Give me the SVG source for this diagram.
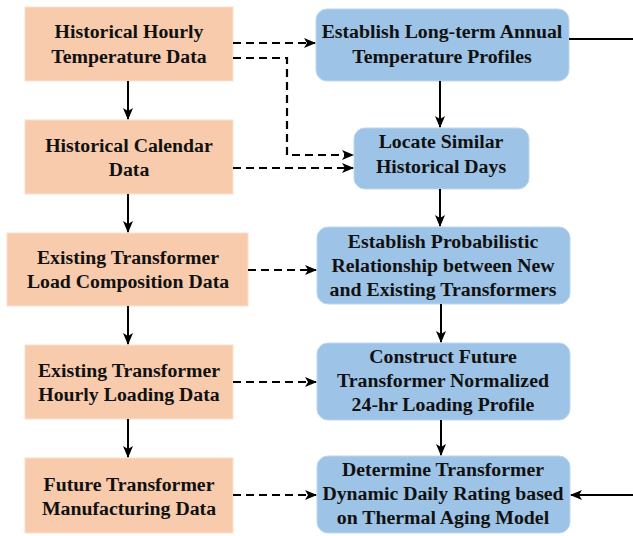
<svg xmlns="http://www.w3.org/2000/svg" width="633" height="536" viewBox="0 0 633 536">
<style>
.src{fill:#F8CBAD;stroke:#FBE0CE;stroke-width:1}
.proc{fill:#9DC3E6;stroke:#BDD7EE;stroke-width:1}
text{font-family:"Liberation Serif","Times New Roman",serif;font-weight:bold;font-size:19.8px;fill:#111;text-anchor:middle}
.solid{fill:none;stroke:#000;stroke-width:2}
.dash{fill:none;stroke:#000;stroke-width:2.2;stroke-dasharray:8,5}
</style>
<defs>
<marker id="ah" viewBox="0 0 12 10" refX="11" refY="5" markerWidth="12" markerHeight="10" markerUnits="userSpaceOnUse" orient="auto">
<path d="M0,0 L12,5 L0,10 L3,5 z" fill="#000"/>
</marker>
</defs>
<g id="n1"><rect class="src" x="25" y="7" width="208" height="74"/><text x="129" y="38">Historical Hourly</text><text x="129" y="63">Temperature Data</text></g>
<g id="n2"><rect class="src" x="25" y="120" width="208" height="74"/><text x="129" y="152">Historical Calendar</text><text x="129" y="176">Data</text></g>
<g id="n3"><rect class="src" x="7" y="233" width="241" height="73"/><text x="128" y="264">Existing Transformer</text><text x="128" y="288">Load Composition Data</text></g>
<g id="n4"><rect class="src" x="25" y="345" width="208" height="74"/><text x="129" y="377">Existing Transformer</text><text x="129" y="401">Hourly Loading Data</text></g>
<g id="n5"><rect class="src" x="25" y="458" width="208" height="75"/><text x="129" y="491">Future Transformer</text><text x="129" y="515">Manufacturing Data</text></g>
<g id="p1"><rect class="proc" x="316" y="9" width="253" height="72" rx="11"/><text x="442" y="38">Establish Long-term Annual</text><text x="442" y="63">Temperature Profiles</text></g>
<g id="p2"><rect class="proc" x="354" y="128" width="175" height="61" rx="11"/><text x="441" y="148">Locate Similar</text><text x="441" y="173">Historical Days</text></g>
<g id="p3"><rect class="proc" x="317" y="227" width="253" height="77" rx="11"/><text x="443" y="248">Establish Probabilistic</text><text x="443" y="272">Relationship between New</text><text x="443" y="296">and Existing Transformers</text></g>
<g id="p4"><rect class="proc" x="317" y="343" width="253" height="77" rx="11"/><text x="443" y="363">Construct Future</text><text x="443" y="387">Transformer Normalized</text><text x="443" y="411">24-hr Loading Profile</text></g>
<g id="p5"><rect class="proc" x="317" y="456" width="253" height="77" rx="11"/><text x="443" y="476">Determine Transformer</text><text x="443" y="500">Dynamic Daily Rating based</text><text x="443" y="524">on Thermal Aging Model</text></g>
<g id="connectors">
<path class="solid" d="M128,81 V119" marker-end="url(#ah)"/>
<path class="solid" d="M128,194 V232" marker-end="url(#ah)"/>
<path class="solid" d="M128,306 V344" marker-end="url(#ah)"/>
<path class="solid" d="M128,419 V457" marker-end="url(#ah)"/>
<path class="solid" d="M440,81 V127" marker-end="url(#ah)"/>
<path class="solid" d="M440,189 V226" marker-end="url(#ah)"/>
<path class="solid" d="M441,304 V342" marker-end="url(#ah)"/>
<path class="solid" d="M441,420 V455" marker-end="url(#ah)"/>
<path class="dash" d="M233,43 H315" marker-end="url(#ah)"/>
<path class="dash" d="M233,58 H287 V155 H353" marker-end="url(#ah)"/>
<path class="dash" d="M233,168 H353" marker-end="url(#ah)"/>
<path class="dash" d="M248,270 H316" marker-end="url(#ah)"/>
<path class="dash" d="M233,382 H316" marker-end="url(#ah)"/>
<path class="dash" d="M233,495 H316" marker-end="url(#ah)"/>
<path class="solid" d="M569,39 H633"/>
<path class="solid" d="M633,495 H571" marker-end="url(#ah)"/>
</g>
</svg>
